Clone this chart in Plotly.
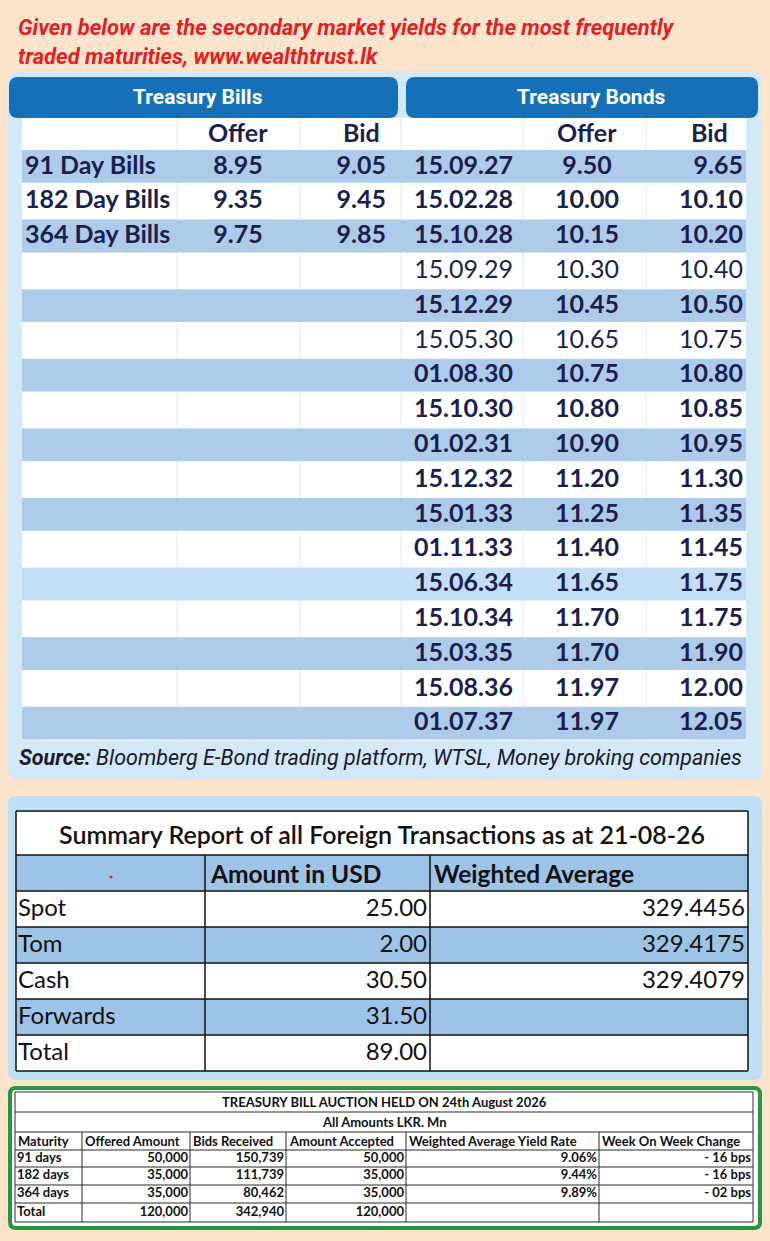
import plotly.graph_objects as go

# secondary market yields - treasury bills
bill_names = ["91 Day Bills", "182 Day Bills", "364 Day Bills"]
bill_offer = [8.95, 9.35, 9.75]
bill_bid = [9.05, 9.45, 9.85]

# secondary market yields - treasury bonds
bond_maturity = ["15.09.27", "15.02.28", "15.10.28", "15.09.29", "15.12.29", "15.05.30",
                 "01.08.30", "15.10.30", "01.02.31", "15.12.32", "15.01.33", "01.11.33",
                 "15.06.34", "15.10.34", "15.03.35", "15.08.36", "01.07.37"]
bond_offer = [9.50, 10.00, 10.15, 10.30, 10.45, 10.65, 10.75, 10.80, 10.90, 11.20, 11.25,
              11.40, 11.65, 11.70, 11.70, 11.97, 11.97]
bond_bid = [9.65, 10.10, 10.20, 10.40, 10.50, 10.75, 10.80, 10.85, 10.95, 11.30, 11.35,
            11.45, 11.75, 11.75, 11.90, 12.00, 12.05]

# foreign transactions summary
fx_type = ["Spot", "Tom", "Cash", "Forwards", "Total"]
fx_amount = [25.00, 2.00, 30.50, 31.50, 89.00]
fx_wavg = [329.4456, 329.4175, 329.4079, None, None]

# treasury bill auction
auction_cols = ["Maturity", "Offered Amount", "Bids Received", "Amount Accepted",
                "Weighted Average Yield Rate", "Week On Week Change"]
auction_maturity = ["91 days", "182 days", "364 days", "Total"]
auction_offered = [50000, 35000, 35000, 120000]
auction_bids = [150739, 111739, 80462, 342940]
auction_accepted = [50000, 35000, 35000, 120000]
auction_yield = [9.06, 9.44, 9.89, None]
auction_change = [-16, -16, -2, None]

PEACH = "#FCE4CD"
NAVY = "#1B1F4E"
BAND = "#AECBEA"
BAND_PALE = "#C4DFF5"
FX_BLUE = "#9DC3E6"
NARROW = "Roboto, sans-serif"
BODY = "Lato, Noto Sans, sans-serif"

regular_rows = {"15.09.29", "15.05.30"}
pale_row = "15.06.34"

fig = go.Figure()
shapes = []


def rect(x0, y0, x1, y1, fill, line_color=None, lw=0):
    shapes.append(dict(type="rect", xref="x", yref="y", x0=x0, y0=y0, x1=x1, y1=y1,
                       fillcolor=fill, layer="below",
                       line=dict(width=lw, color=line_color or fill)))


def rounded(x0, y0, x1, y1, r, fill, line_color=None, lw=0):
    p = (f"M{x0 + r},{y0} L{x1 - r},{y0} Q{x1},{y0} {x1},{y0 + r} L{x1},{y1 - r} "
         f"Q{x1},{y1} {x1 - r},{y1} L{x0 + r},{y1} Q{x0},{y1} {x0},{y1 - r} "
         f"L{x0},{y0 + r} Q{x0},{y0} {x0 + r},{y0} Z")
    shapes.append(dict(type="path", path=p, xref="x", yref="y", fillcolor=fill, layer="below",
                       line=dict(width=lw, color=line_color or fill)))


def line(x0, y0, x1, y1, color, lw):
    shapes.append(dict(type="line", xref="x", yref="y", x0=x0, y0=y0, x1=x1, y1=y1,
                       layer="below", line=dict(width=lw, color=color)))


def text_col(xs, ys, texts, pos, size, color=NAVY, family=BODY, weight="normal"):
    fig.add_trace(go.Scatter(x=xs, y=ys, text=texts, mode="text", textposition=pos,
                             textfont=dict(size=size, color=color, family=family, weight=weight),
                             hoverinfo="skip", showlegend=False, cliponaxis=False))


annotations = []


def label(x, y, text, size, color=NAVY, family=BODY, anchor="left", weight="normal", style="normal"):
    annotations.append(dict(x=x, y=y, xref="x", yref="y", text=text, showarrow=False,
                            xanchor=anchor, yanchor="middle",
                            font=dict(size=size, color=color, family=family, weight=weight,
                                      style=style)))


# ---- panel 1: yields ----
label(16, 27, "Given below are the secondary market yields for the most frequently", 22,
      "#E31E25", NARROW, weight="bold", style="italic")
label(16, 56, "traded maturities, www.wealthtrust.lk", 22,
      "#E31E25", NARROW, weight="bold", style="italic")

rounded(8, 71, 762, 780, 10, "#D3E9F7")
rounded(9, 77, 398, 118, 9, "#1570B8")
rounded(406, 77, 758, 118, 9, "#1570B8")
label(198, 97, "Treasury Bills", 21, "white", NARROW, "center", "bold")
label(591, 97, "Treasury Bonds", 21, "white", NARROW, "center", "bold")

tab_top, head_h, row_h = 118, 31, 34.8
n_rows = max(len(bill_names), len(bond_maturity))
tab_bot = tab_top + head_h + n_rows * row_h
rect(22, tab_top, 746, tab_bot, "white")
for xc in [177, 300, 401, 523, 646]:
    line(xc, tab_top, xc, tab_bot, "#E3E9F0", 1)

row_y = [tab_top + head_h + (i + 0.5) * row_h + 1 for i in range(n_rows)]
for i in range(n_rows):
    if i % 2 == 0:
        fill = BAND_PALE if bond_maturity[i] == pale_row else BAND
        y0 = tab_top + head_h + i * row_h
        rect(22, y0 + 1, 746, y0 + row_h - 1, fill)

hy = tab_top + head_h / 2 - 2
label(238, hy, "Offer", 25, NAVY, BODY, "center", "bold")
label(382, hy, "Bid", 25, NAVY, BODY, "right", "bold")
label(587, hy, "Offer", 25, NAVY, BODY, "center", "bold")
label(730, hy, "Bid", 25, NAVY, BODY, "right", "bold")

ny = row_y[:len(bill_names)]
text_col([25] * len(ny), ny, bill_names, "middle right", 25, weight="bold")
text_col([238] * len(ny), ny, [f"{v:.2f}" for v in bill_offer], "middle center", 25, weight="bold")
text_col([386] * len(ny), ny, [f"{v:.2f}" for v in bill_bid], "middle left", 25, weight="bold")


def wrap(s, key):
    return s if key in regular_rows else f"<b>{s}</b>"


text_col([513] * n_rows, row_y, [wrap(m, m) for m in bond_maturity], "middle left", 25)
text_col([587] * n_rows, row_y, [wrap(f"{v:.2f}", m) for v, m in zip(bond_offer, bond_maturity)],
         "middle center", 25)
text_col([743] * n_rows, row_y, [wrap(f"{v:.2f}", m) for v, m in zip(bond_bid, bond_maturity)],
         "middle left", 25)

label(17, 757, "<b>Source:</b> Bloomberg E-Bond trading platform, WTSL, Money broking companies",
      21.5, "#1A1A2E", NARROW, style="italic")

# ---- panel 2: foreign transactions ----
rounded(8, 796, 762, 1080, 8, "#BEE0F4")
fx_left, fx_right = 16, 748
fx_cols = [fx_left, 205, 430, fx_right]
fx_title_top, fx_head_top, fx_row0, fx_rh = 811, 855, 891, 36
fx_bot = fx_row0 + len(fx_type) * fx_rh
rect(fx_left, fx_title_top, fx_right, fx_head_top, "white")
rect(fx_left, fx_head_top, fx_right, fx_row0, FX_BLUE)
for i in range(len(fx_type)):
    rect(fx_left, fx_row0 + i * fx_rh, fx_right, fx_row0 + (i + 1) * fx_rh,
         "white" if i % 2 == 0 else FX_BLUE)
for yl in [fx_title_top, fx_head_top] + [fx_row0 + i * fx_rh for i in range(len(fx_type) + 1)]:
    line(fx_left, yl, fx_right, yl, "#111111", 1.5)
for xc in [fx_left, fx_right]:
    line(xc, fx_title_top, xc, fx_bot, "#111111", 1.5)
for xc in fx_cols[1:3]:
    line(xc, fx_head_top, xc, fx_bot, "#111111", 1.5)

label(382, 834, "Summary Report of all Foreign Transactions as at 21-08-26", 25, "#111111",
      BODY, "center", 600)
label(208, 873, "Amount in USD", 24.5, "#111111", BODY, "left", "bold")
label(432, 873, "Weighted Average", 24.5, "#111111", BODY, "left", "bold")
fig.add_trace(go.Scatter(x=[111], y=[877], mode="markers", marker=dict(size=3, color="#E8203A"),
                         hoverinfo="skip", showlegend=False))

fy = [fx_row0 + (i + 0.5) * fx_rh + 1 for i in range(len(fx_type))]
text_col([18] * len(fy), fy, fx_type, "middle right", 24, "#111111")
text_col([427] * len(fy), fy, [f"{v:.2f}" for v in fx_amount], "middle left", 24, "#111111")
text_col([745] * len(fy), fy, ["" if v is None else f"{v:.4f}" for v in fx_wavg],
         "middle left", 24, "#111111")

# ---- panel 3: treasury bill auction ----
rounded(10, 1088, 760, 1228, 6, "white", "#27963F", 4)
au_left, au_right = 15, 753
au_cols = [au_left, 82, 190, 286, 406, 599, au_right]
au_rows = [1092, 1112, 1132, 1150, 1167, 1185, 1203, 1222]
for yl in au_rows:
    line(au_left, yl, au_right, yl, "#2A2A2A", 1)
for xc in [au_left, au_right]:
    line(xc, au_rows[0], xc, au_rows[-1], "#2A2A2A", 1)
for xc in au_cols[1:-1]:
    line(xc, au_rows[2], xc, au_rows[-1], "#2A2A2A", 1)

label(384, 1102, "TREASURY BILL AUCTION HELD ON 24th August 2026", 13, "#111111", BODY,
      "center", "bold")
label(384, 1122, "All Amounts LKR. Mn", 13, "#111111", BODY, "center", "bold")
for c, name in enumerate(auction_cols):
    label(au_cols[c] + 1, (au_rows[2] + au_rows[3]) / 2, name, 13, "#111111", BODY, "left", "bold")

ay = [(au_rows[3 + i] + au_rows[4 + i]) / 2 for i in range(len(auction_maturity))]
text_col([au_cols[0] + 2] * len(ay), ay, auction_maturity, "middle right", 13, "#111111",
         weight="bold")
value_cols = [
    [f"{v:,}" for v in auction_offered],
    [f"{v:,}" for v in auction_bids],
    [f"{v:,}" for v in auction_accepted],
    ["" if v is None else f"{v:.2f}%" for v in auction_yield],
    ["" if v is None else f"- {abs(v):02d} bps" for v in auction_change],
]
for c, vals in enumerate(value_cols):
    text_col([au_cols[c + 2] - 2] * len(ay), ay, vals, "middle left", 13, "#111111",
             weight="bold")

fig.update_layout(
    width=770, height=1241, autosize=False,
    margin=dict(l=0, r=0, t=0, b=0),
    paper_bgcolor=PEACH, plot_bgcolor=PEACH,
    shapes=shapes, annotations=annotations,
    xaxis=dict(range=[0, 770], visible=False, fixedrange=True),
    yaxis=dict(range=[1241, 0], visible=False, fixedrange=True),
)

fig.write_html("out.html", config={"displayModeBar": False},
               post_script="document.body.style.margin='0';")
